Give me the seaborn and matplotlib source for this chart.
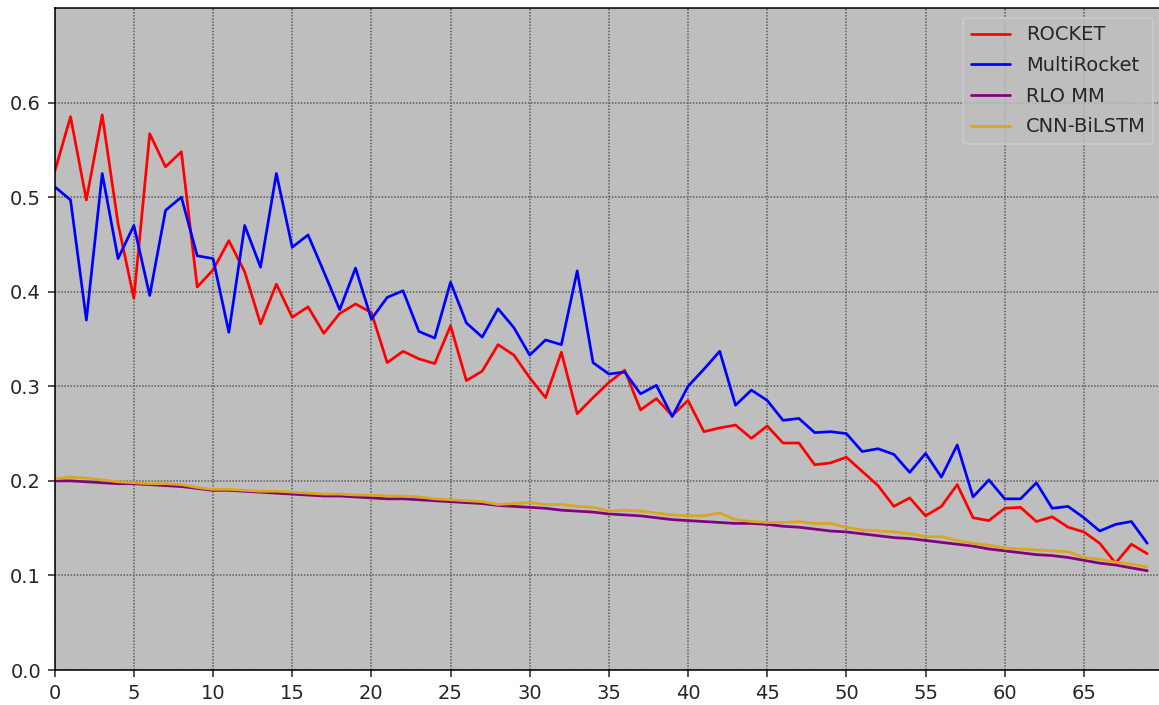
import pandas as pd
import numpy as np
import matplotlib
matplotlib.use("Agg")
import matplotlib.pyplot as plt
import seaborn as sns

# values, one per epoch/step 0..69
steps = list(range(70))

rocket = [0.527, 0.585, 0.497, 0.587, 0.472, 0.393, 0.567, 0.532, 0.548, 0.405,
          0.423, 0.454, 0.421, 0.366, 0.408, 0.373, 0.384, 0.356, 0.377, 0.387,
          0.378, 0.325, 0.337, 0.329, 0.324, 0.364, 0.306, 0.316, 0.344, 0.333,
          0.309, 0.288, 0.336, 0.271, 0.288, 0.304, 0.317, 0.275, 0.287, 0.269,
          0.285, 0.252, 0.256, 0.259, 0.245, 0.258, 0.240, 0.240, 0.217, 0.219,
          0.225, 0.210, 0.195, 0.173, 0.182, 0.163, 0.173, 0.196, 0.161, 0.158,
          0.171, 0.172, 0.157, 0.162, 0.151, 0.146, 0.134, 0.113, 0.133, 0.123]

multirocket = [0.511, 0.497, 0.370, 0.525, 0.435, 0.470, 0.396, 0.486, 0.500, 0.438,
               0.435, 0.357, 0.470, 0.426, 0.525, 0.447, 0.460, 0.421, 0.381, 0.425,
               0.371, 0.394, 0.401, 0.358, 0.351, 0.410, 0.367, 0.352, 0.382, 0.362,
               0.333, 0.349, 0.344, 0.422, 0.325, 0.313, 0.315, 0.292, 0.301, 0.268,
               0.300, 0.318, 0.337, 0.280, 0.296, 0.285, 0.264, 0.266, 0.251, 0.252,
               0.250, 0.231, 0.234, 0.228, 0.209, 0.229, 0.204, 0.238, 0.183, 0.201,
               0.181, 0.181, 0.198, 0.171, 0.173, 0.161, 0.147, 0.154, 0.157, 0.134]

rlo_mm = [0.200, 0.200, 0.199, 0.198, 0.197, 0.197, 0.196, 0.195, 0.194, 0.192,
          0.190, 0.190, 0.189, 0.188, 0.187, 0.186, 0.185, 0.184, 0.184, 0.183,
          0.182, 0.181, 0.181, 0.180, 0.179, 0.178, 0.177, 0.176, 0.174, 0.173,
          0.172, 0.171, 0.169, 0.168, 0.167, 0.165, 0.164, 0.163, 0.161, 0.159,
          0.158, 0.157, 0.156, 0.155, 0.155, 0.154, 0.152, 0.151, 0.149, 0.147,
          0.146, 0.144, 0.142, 0.140, 0.139, 0.137, 0.135, 0.133, 0.131, 0.128,
          0.126, 0.124, 0.122, 0.121, 0.119, 0.116, 0.113, 0.111, 0.108, 0.105]

cnn_bilstm = [0.202, 0.204, 0.203, 0.201, 0.199, 0.198, 0.197, 0.197, 0.196, 0.193,
              0.191, 0.191, 0.190, 0.189, 0.189, 0.188, 0.187, 0.186, 0.186, 0.185,
              0.185, 0.184, 0.184, 0.183, 0.181, 0.180, 0.179, 0.178, 0.175, 0.176,
              0.177, 0.175, 0.175, 0.173, 0.172, 0.168, 0.169, 0.168, 0.166, 0.164,
              0.163, 0.163, 0.166, 0.159, 0.157, 0.156, 0.156, 0.157, 0.155, 0.155,
              0.151, 0.148, 0.147, 0.146, 0.144, 0.141, 0.141, 0.137, 0.134, 0.132,
              0.129, 0.128, 0.127, 0.126, 0.125, 0.119, 0.117, 0.114, 0.112, 0.109]

models = ["ROCKET", "MultiRocket", "RLO MM", "CNN-BiLSTM"]
colors = {"ROCKET": "red", "MultiRocket": "blue",
          "RLO MM": "purple", "CNN-BiLSTM": "goldenrod"}

# long format for seaborn
df = pd.concat([
    pd.DataFrame({"step": steps, "value": vals, "model": name})
    for name, vals in zip(models, [rocket, multirocket, rlo_mm, cnn_bilstm])
])

sns.set_style("ticks", rc={"axes.facecolor": "#bebebe",
                           "axes.edgecolor": "black",
                           "grid.color": "#606060",
                           "grid.linestyle": (0, (1, 1)),
                           "grid.linewidth": 0.5})
plt.rcParams["font.family"] = ["DejaVu Sans"]

DPI = 140
fig = plt.figure(figsize=(1159 / DPI, 705 / DPI), dpi=DPI)
ax = fig.add_axes([0.0472, 0.0496, 1.0035 - 0.0472, 0.9887 - 0.0496])

sns.lineplot(data=df, x="step", y="value", hue="model", hue_order=models,
             palette=colors, linewidth=1.4, ax=ax)

ax.set_xlim(0, 70)
ax.set_ylim(0, 0.7)
ax.set_xticks(range(0, 70, 5))
ax.set_yticks([0.0, 0.1, 0.2, 0.3, 0.4, 0.5, 0.6])
ax.grid(True)
ax.set_xlabel("")
ax.set_ylabel("")
ax.tick_params(labelsize=10)
ax.spines["right"].set_visible(False)

ax.legend(loc="upper right", fontsize=10, framealpha=0.8, labelspacing=0.6)

fig.savefig("out.png", dpi=DPI)
